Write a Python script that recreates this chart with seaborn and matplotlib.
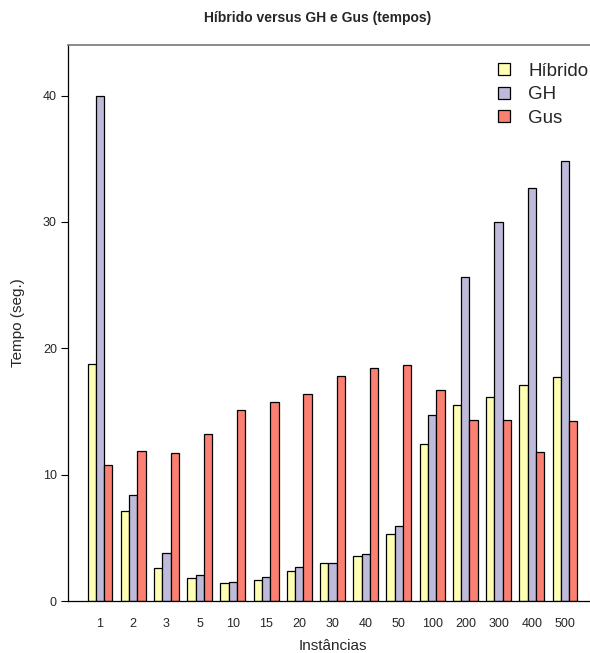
import pandas as pd
import numpy as np
import matplotlib
matplotlib.use("Agg")
import matplotlib.pyplot as plt
import seaborn as sns

# dados
instancias = ["1", "2", "3", "5", "10", "15", "20", "30", "40", "50",
              "100", "200", "300", "400", "500"]
hibrido = [18.76, 7.11, 2.65, 1.84, 1.44, 1.70, 2.39, 2.99, 3.57, 5.32,
           12.46, 15.48, 16.14, 17.12, 17.76]
gh = [40.0, 8.35, 3.77, 2.07, 1.53, 1.87, 2.73, 3.02, 3.74, 5.96,
      14.73, 25.61, 29.99, 32.69, 34.85]
gus = [10.79, 11.86, 11.71, 13.18, 15.08, 15.77, 16.40, 17.78, 18.47, 18.71,
       16.69, 14.36, 14.36, 11.83, 14.27]
metodos = ["Híbrido", "GH", "Gus"]
cores = ["#FFFFB3", "#BEBADA", "#FB8072"]

df = pd.DataFrame({
    "instancia": instancias * 3,
    "metodo": np.repeat(metodos, len(instancias)),
    "tempo": hibrido + gh + gus,
})

sns.set_style("white")
plt.rcParams["font.family"] = ["Liberation Sans", "DejaVu Sans"]

fig = plt.figure(figsize=(5.9, 6.53), dpi=100)
ax = fig.add_axes([68 / 590, 52 / 653, 529 / 590, 556 / 653])

sns.barplot(data=df, x="instancia", y="tempo", hue="metodo",
            order=instancias, hue_order=metodos, palette=cores,
            width=0.75, gap=0, saturation=1,
            edgecolor="black", linewidth=0.9, ax=ax)

ax.set_xlim(-0.965, 14.965)
ax.set_ylim(0, 44)
ax.set_yticks([0, 10, 20, 30, 40])
ax.tick_params(axis="y", length=5, width=0.8, color="black", labelsize=9,
               left=True, pad=3)
ax.tick_params(axis="x", length=0, labelsize=9, pad=12)

for s in ["left", "bottom"]:
    ax.spines[s].set_color("black")
    ax.spines[s].set_linewidth(0.9)
for s in ["top", "right"]:
    ax.spines[s].set_color("#777777")
    ax.spines[s].set_linewidth(1.2)

ax.set_xlabel("Instâncias", fontsize=11, labelpad=7)
ax.set_ylabel("Tempo (seg.)", fontsize=11, labelpad=13)

leg = ax.legend(loc="upper right", frameon=False, fontsize=13.5,
                handlelength=0.6, handleheight=0.6, handletextpad=1.0,
                labelspacing=0.36, borderaxespad=0)
leg.set_bbox_to_anchor((596 / 590, 598 / 653), transform=fig.transFigure)

fig.text(318 / 590, 1 - 18 / 653, "Híbrido versus GH e Gus (tempos)",
         ha="center", va="center", fontsize=10, fontweight="bold")

fig.savefig("out.png", dpi=100)
